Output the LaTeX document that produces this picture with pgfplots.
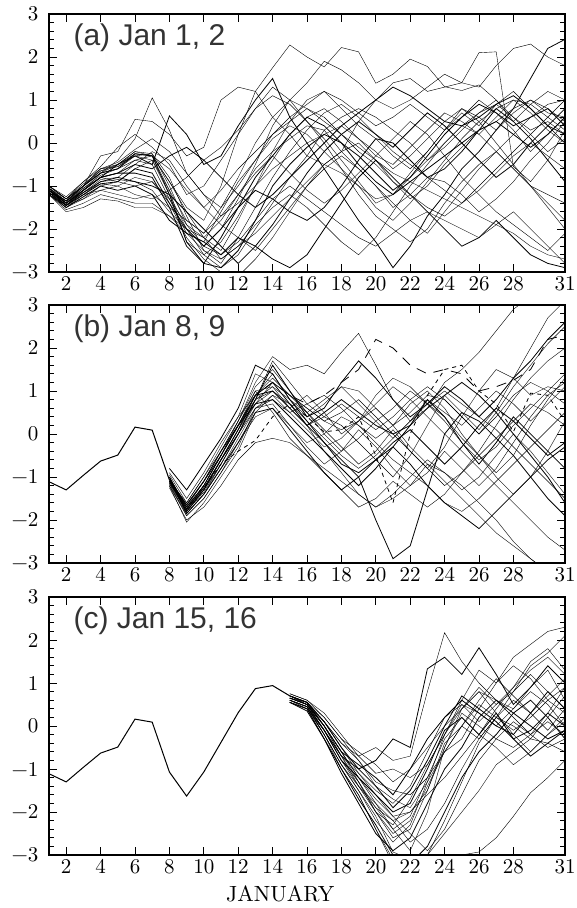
\documentclass[border=0pt]{standalone}
\usepackage{pgfplots}
\usepackage{pgfplotstable}
\pgfplotsset{compat=1.18}
\usepackage{fontspec}
\newfontfamily\titlefont{Liberation Sans}
\newfontfamily\lmfont{lmroman10-regular.otf}

% ---- Panel (a): ensemble members (one row per member, days 1..31)
\pgfplotstableread[header=false]{
-1.00 -1.30 -1.00 -0.60 -0.50 -0.20 -0.30 -0.90 -1.50 -1.80 -1.00 0.20 1.20 1.75 2.28 2.00 1.77 2.22 2.12 1.39 1.60 1.95 1.78 1.31 1.22 1.35 1.00 0.50 0.90 1.20 1.00
-1.10 -1.40 -1.00 -0.30 -0.20 0.55 0.50 0.20 -0.30 -0.10 1.00 1.30 1.20 0.60 0.20 -0.30 -0.50 -0.20 0.50 1.00 1.40 1.50 1.20 1.30 1.40 2.10 2.12 -0.55 -0.90 -0.40 0.30
-1.05 -1.35 -1.10 -0.70 -0.40 0.10 1.05 0.30 -0.70 -1.20 -1.50 -1.00 -0.40 0.20 0.60 0.90 1.20 0.80 0.40 0.10 -0.30 -0.60 -0.20 0.30 0.70 0.40 0.90 1.20 0.80 0.40 0.00
-1.10 -1.45 -1.10 -0.80 -0.50 -0.30 -0.50 0.63 0.20 -0.50 -0.30 0.40 1.00 1.50 0.60 0.00 -0.60 -1.20 -1.80 -2.30 -2.90 -2.40 -1.70 -1.20 -0.60 -0.20 0.30 0.80 1.50 2.20 2.41
-1.15 -1.50 -1.30 -1.00 -0.90 -0.60 -0.40 -1.20 -2.00 -2.60 -2.90 -2.60 -2.00 -1.40 -0.80 -0.30 0.30 0.60 0.80 0.60 0.30 0.00 -0.40 -0.10 0.30 0.70 1.00 0.60 0.20 -0.20 0.10
-1.20 -1.55 -1.40 -1.20 -1.30 -1.40 -1.40 -1.70 -2.10 -2.50 -2.70 -2.40 -2.10 -1.70 -1.30 -0.90 -0.50 -0.70 -1.00 -1.30 -1.20 -0.80 -0.40 0.00 0.40 0.70 0.90 0.60 0.30 0.50 0.20
-1.00 -1.30 -0.90 -0.60 -0.55 -0.30 -0.25 -1.00 -1.90 -2.40 -2.00 -1.30 -0.50 0.40 1.00 0.80 0.50 0.20 -0.10 -0.40 -0.70 -0.90 -1.10 -1.30 -1.50 -1.70 -1.90 -2.10 -2.40 -2.60 -2.70
-1.10 -1.35 -1.00 -0.70 -0.60 -0.25 -0.30 -1.20 -2.30 -2.80 -2.90 -2.50 -1.80 -1.00 -0.50 -0.10 0.20 0.00 -0.30 -0.70 -1.10 -0.80 -0.30 0.20 0.60 0.90 0.70 0.40 0.60 0.80 0.40
-1.20 -1.45 -1.20 -0.90 -0.85 -0.90 -1.10 -1.60 -2.00 -2.20 -1.80 -1.20 -0.60 -0.20 0.10 0.40 0.30 -0.20 -0.60 -1.00 -1.40 -1.80 -2.10 -1.60 -1.10 -0.60 -0.20 0.20 0.60 0.90 1.00
-1.05 -1.40 -1.15 -0.95 -1.00 -0.80 -0.90 -1.40 -2.20 -2.70 -3.00 -3.10 -2.70 -2.20 -1.60 -1.00 -0.50 -0.20 0.00 -0.40 -0.90 -1.30 -1.00 -0.50 -0.10 0.30 0.50 0.80 1.00 0.70 0.60
-1.15 -1.50 -1.20 -1.10 -1.00 -1.20 -1.30 -1.10 -0.80 -0.40 -0.10 0.30 0.80 1.10 0.90 0.50 0.00 -0.60 -1.20 -1.70 -2.00 -2.30 -2.00 -1.40 -0.90 -0.50 -0.20 -0.60 -1.00 -1.50 -2.00
-1.10 -1.40 -1.10 -0.80 -0.70 -0.50 -0.60 -0.30 -0.10 -0.40 -0.80 -1.20 -1.50 -1.20 -0.80 -0.40 0.00 0.40 0.70 1.00 1.30 1.10 0.80 0.50 0.40 0.60 0.90 1.10 0.80 0.40 0.20
-1.00 -1.30 -0.95 -0.65 -0.55 -0.25 -0.30 -1.10 -1.80 -2.10 -1.50 -0.80 0.00 0.60 1.00 1.40 1.90 1.70 1.40 1.00 0.80 1.00 1.30 1.60 1.40 1.30 1.80 2.20 2.30 2.00 1.80
-1.20 -1.60 -1.50 -1.30 -1.35 -1.50 -1.50 -1.70 -2.00 -2.40 -2.60 -2.30 -1.80 -1.30 -1.00 -1.30 -1.60 -1.90 -2.20 -2.40 -2.10 -1.80 -1.60 -1.80 -2.00 -2.20 -1.90 -1.60 -2.00 -2.40 -2.80
-1.05 -1.35 -1.05 -0.75 -0.60 -0.40 -0.50 -1.30 -2.10 -2.30 -1.60 -0.90 -0.40 0.10 0.40 0.20 -0.20 -0.60 -1.00 -1.50 -1.80 -1.40 -0.90 -0.40 0.10 0.50 0.80 1.00 0.90 0.60 0.30
-1.10 -1.40 -1.10 -0.80 -0.70 -0.70 -0.80 -1.50 -2.40 -2.80 -2.20 -1.50 -0.80 -0.30 0.20 0.60 0.40 0.00 -0.50 -0.90 -1.20 -0.90 -0.60 -0.30 0.00 0.30 0.50 0.20 -0.10 0.20 0.60
-1.15 -1.45 -1.15 -0.85 -0.80 -0.50 -0.20 -0.40 -1.00 -1.50 -1.90 -2.20 -2.50 -2.00 -1.50 -1.00 -0.60 -0.30 -0.60 -1.00 -1.50 -1.20 -0.80 -0.90 -1.20 -1.60 -1.30 -0.90 -0.40 0.00 0.50
-1.00 -1.25 -0.90 -0.55 -0.10 0.20 -0.10 -0.50 -1.20 -1.00 -0.40 0.20 0.80 1.30 1.00 0.50 0.10 -0.40 -0.90 -1.40 -1.20 -0.70 -0.20 0.30 0.80 0.50 0.00 -0.50 -1.00 -1.40 -1.80
-1.10 -1.35 -1.00 -0.70 -0.50 -0.20 -0.25 -0.80 -1.70 -2.50 -2.80 -2.20 -1.50 -0.80 -0.20 0.30 0.70 0.90 0.60 0.20 -0.20 -0.50 -0.80 -1.10 -1.40 -1.10 -0.70 -0.30 0.00 -0.30 -0.60
-1.20 -1.50 -1.25 -1.00 -1.10 -1.00 -1.20 -1.80 -2.10 -2.30 -2.60 -2.20 -2.40 -2.70 -2.90 -2.60 -2.00 -1.40 -0.80 -0.40 -0.80 -1.20 -1.60 -2.00 -2.40 -2.20 -1.80 -2.20 -2.60 -2.80 -2.90
-1.05 -1.30 -1.00 -0.60 -0.45 -0.15 0.10 -0.20 -0.70 -1.20 -1.70 -1.40 -1.00 -0.60 -0.30 0.00 0.20 0.40 0.10 -0.20 -0.60 -0.30 0.10 0.50 0.80 0.60 0.30 0.70 1.00 0.80 0.50
-1.10 -1.40 -1.10 -0.80 -0.90 -1.00 -0.90 -1.30 -1.90 -2.20 -2.70 -2.40 -1.90 -1.50 -1.20 -1.50 -1.90 -2.30 -2.60 -2.20 -1.60 -1.00 -0.50 0.00 0.40 0.20 -0.20 -0.60 -1.00 -1.20 -1.40
-1.00 -1.30 -1.00 -0.70 -0.60 -0.30 -0.40 -1.10 -2.30 -2.60 -2.30 -1.70 -1.00 -0.40 0.20 0.60 0.80 0.50 0.10 -0.30 -0.50 -0.10 0.30 0.70 0.50 0.20 0.60 1.00 0.70 0.30 0.00
-1.15 -1.45 -1.20 -0.95 -0.90 -0.60 -0.70 -1.40 -2.00 -2.40 -2.00 -1.50 -1.10 -1.30 -1.60 -1.80 -1.50 -1.00 -0.40 0.10 0.00 -0.40 -0.80 -0.60 -0.20 0.30 0.80 0.50 0.10 -0.40 -0.90
-1.10 -1.35 -1.00 -0.65 -0.50 -0.25 -0.30 -0.60 -1.10 -1.50 -1.10 -0.60 -0.20 0.20 0.50 0.80 0.60 0.20 -0.20 -0.50 -0.90 -1.20 -1.50 -1.70 -1.40 -1.00 -0.60 -0.20 0.20 0.60 1.00
-1.20 -1.45 -1.30 -1.10 -1.20 -1.30 -1.20 -1.50 -1.80 -2.10 -1.70 -1.20 -0.70 -0.30 -0.70 -1.10 -1.40 -1.10 -0.70 -0.30 0.10 0.50 0.20 -0.30 -0.80 -1.20 -1.60 -1.90 -2.20 -2.50 -2.10
-1.05 -1.40 -1.05 -0.80 -0.70 -0.40 -0.30 -0.90 -1.60 -2.20 -2.50 -1.80 -1.00 -0.20 0.50 1.00 1.20 1.00 0.70 0.40 0.60 0.90 0.60 0.30 0.60 1.00 0.70 0.30 -0.20 0.20 0.60
-1.10 -1.45 -1.15 -0.90 -0.80 -0.90 -1.00 -1.20 -1.60 -2.00 -2.40 -2.80 -2.40 -1.90 -1.30 -0.70 -0.20 0.20 0.50 0.20 -0.10 0.30 0.70 0.40 0.00 -0.40 -0.80 -0.50 0.00 0.40 0.80
}\rawA
\pgfplotstabletranspose{\tabA}{\rawA}

% ---- Panel (b): ensemble members (days 8..31)
\pgfplotstableread[header=false]{
-1.00 -1.70 -1.10 -0.40 0.30 1.20 1.80 1.50 1.60 1.40 1.90 2.34 1.60 0.80 0.30 0.60 1.20 1.50 1.90 2.40 2.90 3.20 3.40 3.50
-1.10 -1.80 -1.30 -0.70 0.00 0.80 1.70 1.20 0.70 0.40 0.20 -0.20 -0.60 -1.00 -0.50 0.20 0.90 0.50 0.10 0.60 1.30 2.00 2.70 3.10
-0.80 -1.30 -0.70 -0.10 0.60 1.60 1.40 0.80 0.30 -0.20 -0.60 -1.00 -2.00 -2.90 -2.60 -1.30 0.00 0.50 0.30 -0.10 -0.50 -1.00 -1.50 -1.90
-1.20 -2.05 -1.60 -1.00 -0.40 0.50 0.90 0.70 0.20 -0.40 -0.90 -1.40 -1.70 -1.50 -1.20 -0.70 -0.90 -1.20 -1.60 -2.00 -2.50 -2.90 -3.20 -3.40
-1.05 -1.75 -1.20 -0.50 0.20 1.00 1.10 0.60 0.90 0.50 0.00 0.30 0.90 1.30 1.10 0.70 0.40 -0.10 -0.50 -0.90 -0.50 0.20 0.80 1.30
-1.10 -1.60 -1.00 -0.30 0.40 0.90 1.40 0.80 0.40 0.70 1.10 1.00 0.60 0.20 0.50 0.90 0.80 0.40 0.00 0.40 0.90 1.20 1.00 0.70
-1.00 -1.85 -1.40 -0.80 -0.20 0.50 0.60 0.10 -0.40 -0.90 -1.30 -1.00 -0.60 -0.30 -0.70 -1.20 -1.60 -1.90 -2.20 -1.80 -1.40 -1.00 -0.60 -0.30
-1.15 -1.90 -1.50 -0.90 -0.30 0.60 0.80 0.50 0.70 0.90 0.60 0.20 -0.10 0.20 0.70 1.00 0.60 0.00 -0.50 -1.00 -1.40 -1.00 -0.40 0.30
-0.90 -1.50 -0.90 -0.20 0.40 1.40 1.20 0.90 0.50 0.10 -0.30 -0.70 -0.40 0.10 -0.40 -0.80 -0.30 0.40 1.00 1.50 1.30 0.90 1.10 1.00
-1.25 -2.00 -1.70 -1.20 -0.60 -0.20 -0.10 -0.20 -0.50 -0.90 -1.30 -1.70 -1.50 -1.10 -1.40 -1.70 -1.40 -0.90 -0.40 0.20 0.80 1.30 1.70 2.00
-1.05 -1.65 -1.10 -0.50 0.20 0.90 1.00 0.60 0.20 0.50 0.80 0.50 0.20 0.00 0.20 0.80 0.40 -0.20 -0.70 -0.20 0.40 0.00 -0.40 -0.80
-1.10 -1.80 -1.30 -0.60 0.10 0.70 1.20 0.90 0.60 0.30 0.10 0.30 0.60 0.20 -0.30 -0.70 -1.10 -1.50 -1.90 -2.30 -2.60 -2.90 -3.20 -3.30
-1.00 -1.70 -1.20 -0.50 0.30 1.10 1.50 1.00 0.50 0.00 -0.40 -0.10 0.30 0.60 1.00 0.70 0.30 -0.20 -0.60 -0.30 0.20 0.60 1.00 1.40
-1.20 -1.85 -1.40 -0.80 -0.10 0.60 0.70 0.20 -0.30 -0.70 -0.40 0.10 -0.30 -0.80 -1.20 -0.90 -0.40 -0.80 -1.20 -0.80 -0.20 0.40 0.90 1.20
-1.10 -1.75 -1.25 -0.60 0.00 0.80 1.60 1.00 0.40 0.60 1.20 1.70 1.30 0.80 0.40 0.70 1.10 0.80 0.40 0.80 1.30 1.70 2.20 2.60
-0.95 -1.60 -1.00 -0.40 0.30 1.00 0.50 -0.10 -0.50 -0.80 -1.10 -1.40 -1.70 -1.40 -1.00 -0.60 -0.90 -1.30 -1.00 -0.50 0.00 -0.40 -0.90 -1.40
-1.15 -1.80 -1.35 -0.70 0.00 0.70 1.00 0.70 0.30 -0.10 -0.50 -0.80 -0.50 -0.10 0.30 0.70 1.00 0.70 0.40 0.10 -0.30 -0.70 -1.10 -1.50
-1.05 -1.70 -1.20 -0.50 0.20 0.90 1.30 0.90 0.60 0.30 0.50 0.80 0.40 0.00 -0.40 -0.80 -1.20 -0.90 -0.50 -0.10 0.30 0.70 0.50 0.20
-1.10 -1.65 -1.10 -0.40 0.20 0.70 0.80 0.40 0.00 -0.40 -0.80 -1.20 -0.80 -0.30 0.20 0.60 0.90 1.20 0.90 0.50 0.00 -0.50 -1.00 -1.60
-1.20 -1.90 -1.50 -0.90 -0.20 0.40 0.60 0.20 -0.20 0.00 0.40 0.20 -0.20 -0.60 -0.90 -1.20 -1.60 -1.80 -1.50 -1.10 -0.70 -0.30 0.10 0.50
-1.00 -1.75 -1.30 -0.60 0.10 0.80 1.10 0.80 0.50 0.80 1.10 0.70 0.30 -0.10 0.30 0.80 0.50 0.20 0.60 1.00 0.70 0.30 0.70 1.10
-1.10 -1.85 -1.40 -0.70 0.00 0.60 0.90 0.50 0.10 -0.30 -0.10 0.30 0.70 1.10 0.80 0.40 0.00 -0.40 -0.80 -1.20 -1.60 -2.00 -2.40 -2.70
-1.05 -1.80 -1.30 -0.60 0.10 0.90 1.20 0.70 0.20 -0.20 -0.70 -0.90 -0.60 -0.20 0.10 -0.30 -0.70 -0.30 0.20 0.60 0.30 -0.10 -0.50 -0.20
-1.15 -1.70 -1.20 -0.50 0.20 0.80 1.00 0.60 0.20 0.40 0.70 0.40 0.10 0.40 0.80 1.10 0.80 0.40 0.00 0.50 1.10 1.60 2.10 2.50
}\rawB
\pgfplotstabletranspose{\tabB}{\rawB}

% ---- Panel (c): ensemble members (days 15..31)
\pgfplotstableread[header=false]{
0.70 0.55 0.00 -0.60 -1.20 -1.80 -2.40 -2.90 -2.00 -0.50 0.40 0.90 0.50 0.80 1.40 1.70 2.10
0.65 0.50 0.10 -0.40 -0.70 -0.50 -0.80 -0.70 0.80 2.17 1.50 1.00 0.60 0.20 -0.20 0.30 0.90
0.60 0.45 -0.10 -0.70 -1.00 -0.80 -0.30 -0.50 1.33 1.60 1.20 1.82 1.20 0.50 0.90 1.40 1.00
0.75 0.60 0.30 -0.20 -0.70 -1.10 -1.00 -1.20 -0.90 -0.20 0.60 1.30 1.00 1.60 1.90 2.20 2.30
0.55 0.40 -0.20 -0.90 -1.50 -2.10 -2.93 -3.10 -3.00 -2.50 -2.00 -1.50 -0.90 -0.60 -0.30 -0.40 -0.60
0.65 0.50 -0.10 -0.80 -1.30 -1.90 -2.20 -2.00 -1.50 -0.50 0.30 0.00 -0.30 -0.50 -0.20 0.10 -0.20
0.70 0.55 0.00 -0.60 -0.90 -1.20 -1.60 -1.00 -0.30 0.20 0.60 0.30 0.00 -0.20 0.30 0.80 0.40
0.60 0.45 -0.20 -1.00 -1.60 -2.40 -3.10 -3.30 -3.20 -3.10 -3.00 -2.93 -2.60 -2.10 -1.55 -1.20 -0.80
0.70 0.50 0.00 -0.70 -1.30 -2.00 -2.60 -2.40 -1.50 -0.40 0.00 -0.30 0.20 0.60 0.30 -0.10 0.40
0.65 0.55 0.20 -0.30 -0.60 -0.90 -1.30 -1.00 -0.50 0.00 0.40 0.80 0.60 0.40 0.90 1.30 0.60
0.55 0.40 -0.30 -1.10 -1.80 -2.50 -2.90 -2.60 -1.80 -1.00 -0.50 0.20 0.60 0.30 0.00 -0.30 -0.10
0.70 0.55 0.10 -0.50 -1.10 -1.50 -1.80 -1.40 -0.60 0.20 0.50 0.10 0.50 0.90 1.50 1.80 1.30
0.60 0.40 -0.10 -0.80 -1.40 -2.00 -2.30 -1.70 -0.90 -0.20 0.40 0.80 0.30 -0.20 -0.60 -0.20 0.20
0.65 0.50 0.00 -0.60 -1.20 -1.70 -2.10 -2.00 -1.60 -1.20 -0.70 -0.20 0.40 0.90 1.30 1.60 1.20
0.55 0.35 -0.30 -1.00 -1.70 -2.30 -3.00 -3.20 -2.80 -2.00 -1.20 -0.60 -0.20 0.30 0.60 0.20 -0.30
0.75 0.60 0.20 -0.30 -0.80 -1.40 -1.70 -1.90 -1.30 -0.60 0.00 0.50 0.20 -0.10 0.20 0.60 0.90
0.70 0.50 0.00 -0.70 -1.40 -1.90 -2.40 -2.10 -1.20 -0.30 0.20 -0.20 -0.50 -0.90 -0.60 -0.20 0.10
0.60 0.45 -0.20 -0.90 -1.50 -2.20 -2.70 -2.30 -1.30 -0.20 0.50 0.30 0.00 0.40 0.80 0.50 0.00
0.65 0.50 -0.10 -0.80 -1.20 -1.60 -2.00 -1.80 -1.00 -0.10 0.20 -0.20 0.30 -0.30 -0.70 -0.40 -0.10
0.70 0.55 0.10 -0.40 -0.80 -1.30 -1.50 -1.60 -1.20 -0.60 -0.30 0.40 1.00 1.40 1.10 0.60 0.30
0.55 0.40 -0.30 -1.00 -1.60 -2.40 -3.20 -3.30 -3.00 -2.20 -1.30 -0.40 0.20 0.00 -0.30 0.20 0.70
0.60 0.45 -0.10 -0.70 -1.10 -1.60 -2.10 -2.50 -2.90 -2.40 -1.60 -0.80 -0.30 0.10 -0.20 -0.50 -0.30
0.70 0.55 0.10 -0.50 -1.00 -1.40 -1.90 -1.50 -0.80 0.00 0.70 0.40 0.10 -0.30 -0.10 0.30 0.00
0.65 0.50 0.00 -0.60 -1.30 -2.00 -2.50 -2.20 -1.40 -0.60 0.00 0.60 1.10 0.70 0.30 0.70 1.10
0.60 0.45 -0.20 -0.90 -1.40 -1.80 -2.20 -2.70 -2.40 -1.80 -1.00 -0.30 0.20 0.80 1.20 0.80 0.40
}\rawC
\pgfplotstabletranspose{\tabC}{\rawC}

\pgfplotsset{
  panel/.style={
    scale only axis, width=516pt, height=258pt,
    xmin=1, xmax=31, ymin=-3, ymax=3,
    xtick={2,4,...,28,31}, ytick={-3,-2,...,3},
    yticklabels={−3,−2,−1,0,1,2,3},
    /pgf/number format/assume math mode=true,
    minor y tick num=4,
    major tick length=8pt, minor tick length=5pt,
    tick align=inside,
    clip mode=individual,
    axis line style={line width=1.3pt},
    every tick/.style={black, line width=0.8pt},
    tick label style={font=\lmfont\fontsize{21}{21}\selectfont},
    yticklabel style={xshift=-7pt},
    xticklabel style={yshift=-1pt},
    cycle list={{black, solid, mark=none, line width=0.8pt}},
  },
}
\tikzset{ptitle/.style={anchor=base west, text=black!80, font=\titlefont\fontsize{30}{30}\selectfont}}

\begin{document}
\begin{tikzpicture}
\useasboundingbox (-49pt,14pt) rectangle (527pt,-894pt);

% ---------- (a)
\begin{axis}[panel, at={(0pt,0pt)}, anchor=north west]
\pgfplotsinvokeforeach{1,...,28}{\addplot table[x expr=\coordindex+1, y index=#1]{\tabA};}
\node[ptitle] at ([xshift=21pt,yshift=-31pt]rel axis cs:0,1) {(a) Jan 1, 2};
\end{axis}

% ---------- (b)
\begin{axis}[panel, at={(0pt,-291pt)}, anchor=north west]
\addplot[black, line width=1pt] coordinates {(1,-1.11)(2,-1.30)(3,-0.96)(4,-0.63)(5,-0.49)(6,0.16)(7,0.09)(8,-1.07)};
\pgfplotsinvokeforeach{1,...,24}{\addplot table[x expr=\coordindex+8, y index=#1]{\tabB};}
\addplot[black, line width=0.8pt, dash pattern=on 4pt off 4pt] coordinates {(8,-1.05)(9,-1.75)(10,-1.25)(11,-0.70)(12,-0.40)(13,-0.15)(14,0.40)(15,0.70)(16,0.40)(17,0.05)(18,0.10)(19,0.40)(20,-0.50)(21,-1.60)(22,0.00)(23,0.90)(24,1.50)(25,1.60)(26,1.00)(27,0.70)(28,0.05)(29,0.95)(30,0.90)(31,0.30)};
\addplot[black, line width=0.8pt, dash pattern=on 10pt off 8pt] coordinates {(8,-1.05)(9,-1.75)(10,-1.20)(11,-0.50)(12,0.20)(13,0.90)(14,1.20)(15,0.90)(16,0.70)(17,0.90)(18,1.20)(19,1.50)(20,2.20)(21,2.00)(22,1.60)(23,1.40)(24,1.50)(25,1.40)(26,1.00)(27,1.10)(28,1.25)(29,1.50)(30,2.20)(31,2.30)};
\node[ptitle] at ([xshift=21pt,yshift=-31pt]rel axis cs:0,1) {(b) Jan 8, 9};
\end{axis}

% ---------- (c)
\begin{axis}[panel, at={(0pt,-583pt)}, anchor=north west]
\addplot[black, line width=1pt] coordinates {(1,-1.11)(2,-1.30)(3,-0.96)(4,-0.63)(5,-0.49)(6,0.16)(7,0.09)(8,-1.07)(9,-1.63)(10,-1.07)(11,-0.38)(12,0.31)(13,0.87)(14,0.94)(15,0.70)};
\pgfplotsinvokeforeach{1,...,25}{\addplot table[x expr=\coordindex+15, y index=#1]{\tabC};}
\node[ptitle] at ([xshift=21pt,yshift=-31pt]rel axis cs:0,1) {(c) Jan 15, 16};
\node[anchor=base, font=\lmfont\fontsize{22}{22}\selectfont] at ([yshift=-46pt]rel axis cs:0.448,0) {JANUARY};
\end{axis}
\end{tikzpicture}
\end{document}
